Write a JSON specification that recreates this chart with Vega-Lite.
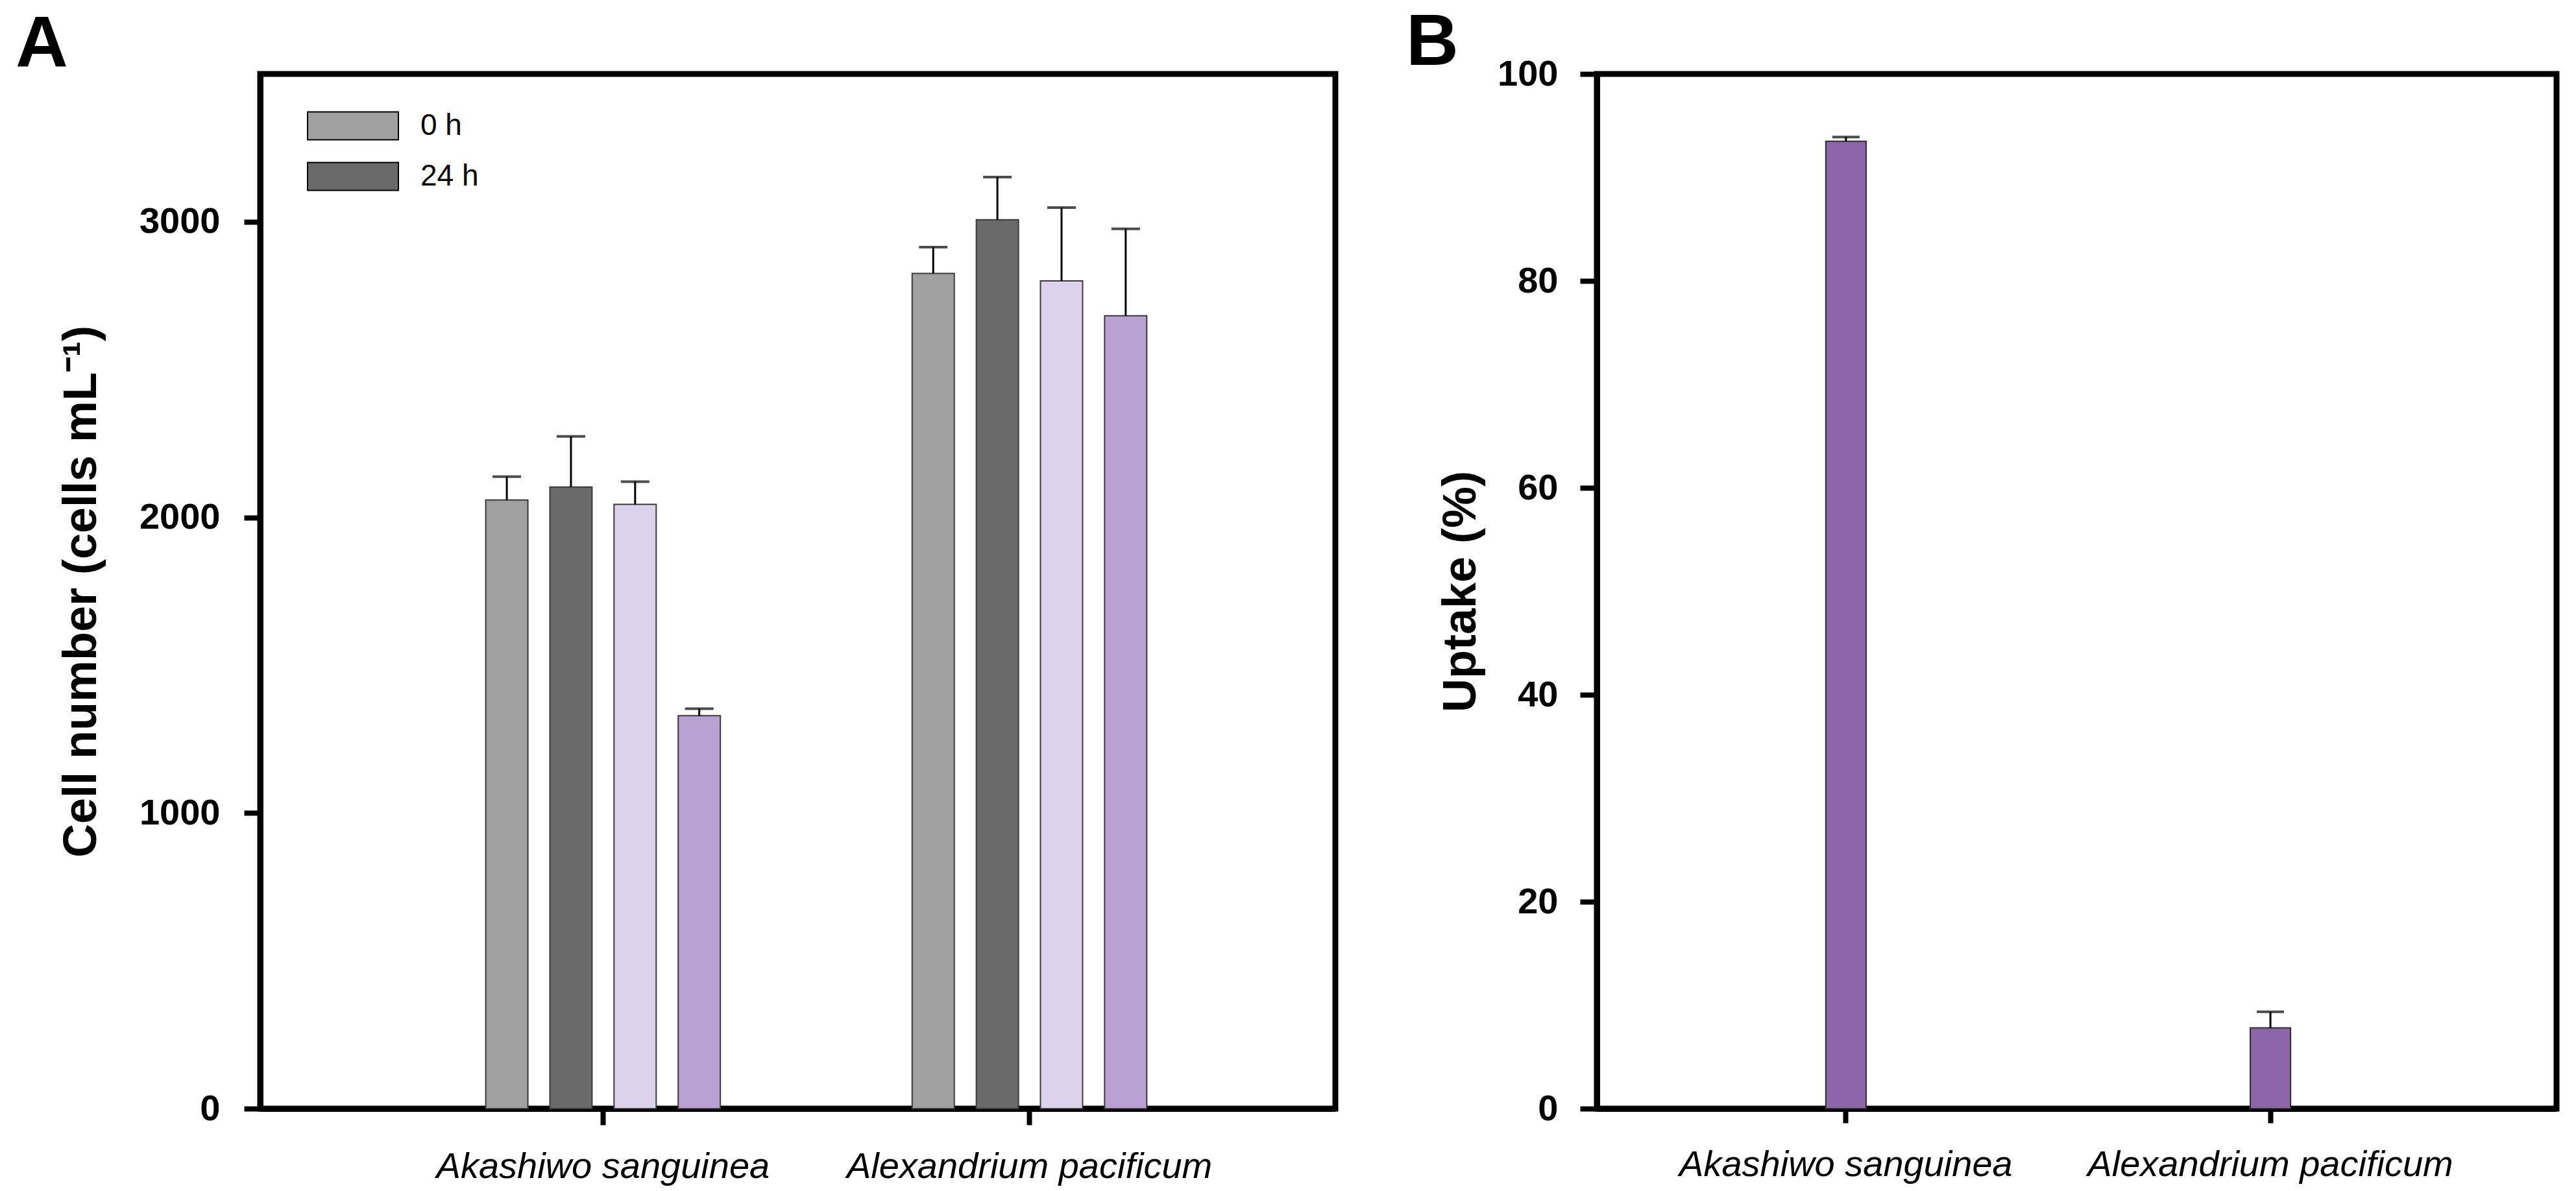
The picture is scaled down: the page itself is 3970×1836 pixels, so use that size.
{
  "$schema": "https://vega.github.io/schema/vega-lite/v6.json",
  "background": "white",
  "padding": {"left": 19, "top": 5, "right": 20, "bottom": 5},
  "spacing": 99,
  "config": {
    "font": "Liberation Sans",
    "view": {"stroke": "black", "strokeWidth": 9},
    "axis": {
      "domainColor": "black", "domainWidth": 9, "tickColor": "black", "tickWidth": 8, "tickSize": 25,
      "labelColor": "black", "titleColor": "black", "grid": false, "labelLimit": 0,
      "labelFont": "Liberation Sans", "titleFont": "Liberation Sans"
    },
    "title": {"font": "Liberation Sans", "fontSize": 112, "fontWeight": "bold", "color": "black", "anchor": "start", "frame": "group", "offset": -38}
  },
  "hconcat": [
    {
      "title": {"text": "A", "dx": -377, "dy": -25},
      "width": 1657,
      "height": 1595,
      "data": {"values": [
        {"species": "Akashiwo sanguinea", "series": "Control 0 h", "value": 2059, "upper": 2138},
        {"species": "Akashiwo sanguinea", "series": "Control 24 h", "value": 2103, "upper": 2274},
        {"species": "Akashiwo sanguinea", "series": "Treated 0 h", "value": 2044, "upper": 2121},
        {"species": "Akashiwo sanguinea", "series": "Treated 24 h", "value": 1329, "upper": 1353},
        {"species": "Alexandrium pacificum", "series": "Control 0 h", "value": 2825, "upper": 2914},
        {"species": "Alexandrium pacificum", "series": "Control 24 h", "value": 3007, "upper": 3151},
        {"species": "Alexandrium pacificum", "series": "Treated 0 h", "value": 2800, "upper": 3048},
        {"species": "Alexandrium pacificum", "series": "Treated 24 h", "value": 2682, "upper": 2976}
      ]},
      "encoding": {
        "x": {
          "field": "species", "type": "nominal",
          "sort": ["Akashiwo sanguinea", "Alexandrium pacificum"],
          "scale": {"paddingInner": 0.4498, "paddingOuter": 0.4856, "align": 0.5446},
          "axis": {"title": null, "labelAngle": 0, "labelFontStyle": "italic", "labelFontSize": 56, "labelPadding": 37, "tickSize": 25}
        },
        "xOffset": {
          "field": "series", "type": "nominal",
          "sort": ["Control 0 h", "Control 24 h", "Treated 0 h", "Treated 24 h"],
          "scale": {"paddingInner": 0.343, "paddingOuter": 0}
        }
      },
      "layer": [
        {
          "mark": {"type": "bar", "stroke": "#3a3a3a", "strokeWidth": 2},
          "encoding": {
            "y": {
              "field": "value", "type": "quantitative", "title": "Cell number (cells mL⁻¹)",
              "scale": {"domain": [0, 3500], "nice": false},
              "axis": {"values": [0, 1000, 2000, 3000], "format": "d", "labelFontSize": 56, "labelFontWeight": "bold", "labelPadding": 37, "tickSize": 25, "titleFontSize": 72, "titleFontWeight": "bold", "titlePadding": 52}
            },
            "fill": {
              "field": "series", "type": "nominal",
              "scale": {"domain": ["Control 0 h", "Control 24 h", "Treated 0 h", "Treated 24 h"], "range": ["#a0a0a0", "#6a6a6a", "#ddd2eb", "#b9a2d3"]},
              "legend": {
                "orient": "none", "legendX": 120, "legendY": 57, "title": null, "padding": 0,
                "values": ["Control 0 h", "Control 24 h"],
                "labelExpr": "replace(datum.label, 'Control ', '')",
                "symbolType": "M-3.256,-1L3.256,-1L3.256,1L-3.256,1Z", "symbolSize": 1849,
                "symbolStrokeColor": "black", "symbolStrokeWidth": 2,
                "labelFontSize": 46, "labelOffset": 81, "rowPadding": 26, "labelColor": "black"
              }
            }
          }
        },
        {
          "mark": {"type": "rule", "color": "black", "strokeWidth": 3},
          "encoding": {
            "y": {"field": "value", "type": "quantitative", "title": "Cell number (cells mL⁻¹)"},
            "y2": {"field": "upper"}
          }
        },
        {
          "mark": {"type": "tick", "color": "black", "thickness": 4, "size": 44},
          "encoding": {
            "y": {"field": "upper", "type": "quantitative", "title": "Cell number (cells mL⁻¹)"}
          }
        }
      ]
    },
    {
      "title": {"text": "B", "dx": -294},
      "width": 1479,
      "height": 1595,
      "data": {"values": [
        {"species": "Akashiwo sanguinea", "uptake": 93.5, "upper": 93.9},
        {"species": "Alexandrium pacificum", "uptake": 7.8, "upper": 9.35}
      ]},
      "encoding": {
        "x": {
          "field": "species", "type": "nominal",
          "sort": ["Akashiwo sanguinea", "Alexandrium pacificum"],
          "scale": {"paddingInner": 0.905, "paddingOuter": 0.583, "align": 0.4626},
          "axis": {"title": null, "labelAngle": 0, "labelFontStyle": "italic", "labelFontSize": 56, "labelPadding": 37, "tickSize": 22}
        }
      },
      "layer": [
        {
          "mark": {"type": "bar", "fill": "#8b65a8", "stroke": "#2e2e2e", "strokeWidth": 2},
          "encoding": {
            "y": {
              "field": "uptake", "type": "quantitative", "title": "Uptake (%)",
              "scale": {"domain": [0, 100], "nice": false},
              "axis": {"values": [0, 20, 40, 60, 80, 100], "labelFontSize": 56, "labelFontWeight": "bold", "labelPadding": 34, "tickSize": 26, "titleFontSize": 72, "titleFontWeight": "bold", "titlePadding": 19}
            }
          }
        },
        {
          "mark": {"type": "rule", "color": "black", "strokeWidth": 3},
          "encoding": {
            "y": {"field": "uptake", "type": "quantitative", "title": "Uptake (%)"},
            "y2": {"field": "upper"}
          }
        },
        {
          "mark": {"type": "tick", "color": "black", "thickness": 4, "size": 42},
          "encoding": {
            "y": {"field": "upper", "type": "quantitative", "title": "Uptake (%)"}
          }
        }
      ]
    }
  ]
}
